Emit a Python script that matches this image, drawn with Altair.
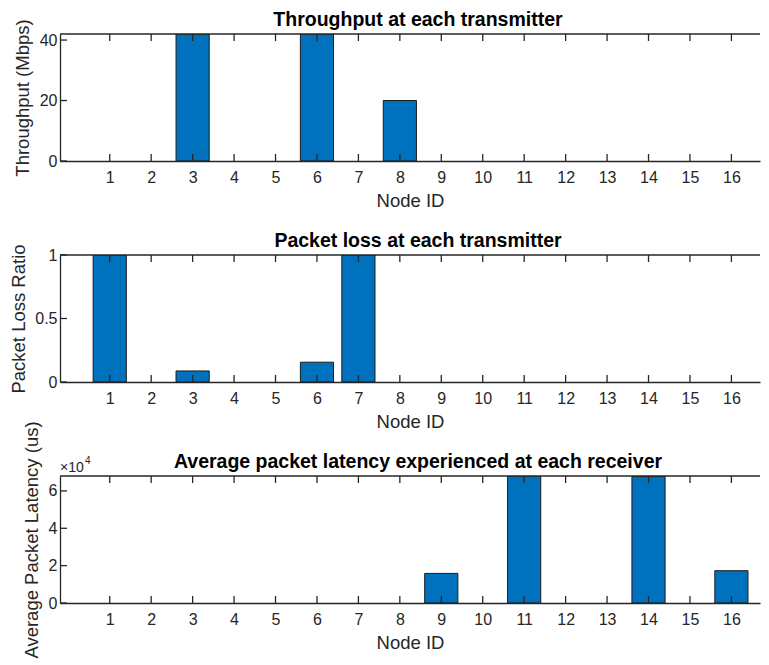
import altair as alt
import pandas as pd

# ---- data ----
nodes = list(range(1, 17))
throughput = [0, 0, 42, 0, 0, 42, 0, 20, 0, 0, 0, 0, 0, 0, 0, 0]
loss_ratio = [1.0, 0, 0.087, 0, 0, 0.156, 1.0, 0, 0, 0, 0, 0, 0, 0, 0, 0]
latency = [0, 0, 0, 0, 0, 0, 0, 0, 15850, 0, 68000, 0, 0, 67700, 0, 17300]

panel_titles = [
    "Throughput at each transmitter",
    "Packet loss at each transmitter",
    "Average packet latency experienced at each receiver",
]
y_titles = ["Throughput (Mbps)", "Packet Loss Ratio", "Average Packet Latency (us)"]
y_max = [42, 1, 68000]
y_ticks = [[0, 20, 40], [0, 0.5, 1], [0, 20000, 40000, 60000]]
y_label_expr = ["datum.value", "datum.value", "datum.value / 10000"]
y_title_x = [-28, -32, -19]

# ---- styling ----
W, H = 700, 127
XMIN, XMAX = -0.2, 16.69
AX = "#262626"
BAR = "#0072BD"
FONT = "Liberation Sans"
TICK_LEN = 7


def panel(values, title, ytitle, ymax, yvals, lexpr, tx, exponent=False):
    df = pd.DataFrame({"node": nodes, "value": values})
    xscale = alt.Scale(domain=[XMIN, XMAX], nice=False, zero=False)
    yscale = alt.Scale(domain=[0, ymax], nice=False)

    bars = (
        alt.Chart(df)
        .transform_filter("datum.value > 0")
        .transform_calculate(lo="datum.node - 0.4", hi="datum.node + 0.4")
        .mark_bar(color=BAR, stroke="#1a1a1a", strokeWidth=1, clip=True)
        .encode(
            x=alt.X(
                "lo:Q",
                scale=xscale,
                axis=alt.Axis(
                    values=nodes,
                    title="Node ID",
                    ticks=False,
                    tickSize=0,
                    grid=False,
                    labelPadding=8,
                    labelFontSize=16,
                    labelColor=AX,
                    labelFont=FONT,
                    titleFont=FONT,
                    titleFontSize=18.5,
                    titleFontWeight="normal",
                    titleColor=AX,
                    titleY=30,
                    titleBaseline="top",
                    domainColor=AX,
                    domainWidth=1.3,
                    zindex=1,
                ),
            ),
            x2="hi:Q",
            y=alt.Y(
                "value:Q",
                scale=yscale,
                axis=alt.Axis(
                    values=yvals,
                    labelExpr=lexpr,
                    title=ytitle,
                    ticks=False,
                    tickSize=0,
                    grid=False,
                    labelPadding=3,
                    labelFontSize=16,
                    labelColor=AX,
                    labelFont=FONT,
                    titleFont=FONT,
                    titleFontSize=18.5,
                    titleFontWeight="normal",
                    titleColor=AX,
                    titleAngle=270,
                    titleBaseline="bottom",
                    titleX=tx,
                    titleY=H / 2,
                    domainColor=AX,
                    domainWidth=1.3,
                    zindex=1,
                ),
            ),
            y2=alt.datum(0),
        )
    )

    tick_df = pd.DataFrame({"node": nodes})
    bottom_ticks = alt.Chart(tick_df).mark_rule(color=AX, strokeWidth=1.3).encode(
        x=alt.X("node:Q"),
        y=alt.value(H),
        y2=alt.value(H - TICK_LEN),
    )
    top_ticks = alt.Chart(tick_df).mark_rule(color=AX, strokeWidth=1.3).encode(
        x=alt.X("node:Q"),
        y=alt.value(0),
        y2=alt.value(TICK_LEN),
    )
    top_border = alt.Chart(pd.DataFrame({"k": [0]})).mark_rule(
        color=AX, strokeWidth=1.3
    ).encode(x=alt.value(0), x2=alt.value(W), y=alt.value(0))
    left_ticks = alt.Chart(pd.DataFrame({"t": yvals})).mark_rule(
        color=AX, strokeWidth=1.3
    ).encode(
        y=alt.Y("t:Q"),
        x=alt.value(0),
        x2=alt.value(TICK_LEN),
    )
    title_txt = alt.Chart(pd.DataFrame({"s": [title]})).mark_text(
        align="center", baseline="alphabetic", fontSize=19.5, fontWeight="bold",
        font=FONT, color="black"
    ).encode(text="s:N", x=alt.value(W / 2 + 8), y=alt.value(-8))
    layers = [bars, bottom_ticks, top_ticks, top_border, left_ticks, title_txt]
    if exponent:
        base_txt = alt.Chart(pd.DataFrame({"s": ["\u00d710"]})).mark_text(
            align="left", baseline="alphabetic", fontSize=14, font=FONT, color=AX
        ).encode(text="s:N", x=alt.value(0), y=alt.value(-4))
        exp_txt = alt.Chart(pd.DataFrame({"s": ["4"]})).mark_text(
            align="left", baseline="alphabetic", fontSize=10, font=FONT, color=AX
        ).encode(text="s:N", x=alt.value(25), y=alt.value(-12))
        layers += [base_txt, exp_txt]

    return alt.layer(*layers).properties(width=W, height=H)


panels = [
    panel(throughput, panel_titles[0], y_titles[0], y_max[0], y_ticks[0], y_label_expr[0], y_title_x[0]),
    panel(loss_ratio, panel_titles[1], y_titles[1], y_max[1], y_ticks[1], y_label_expr[1], y_title_x[1]),
    panel(latency, panel_titles[2], y_titles[2], y_max[2], y_ticks[2], y_label_expr[2], y_title_x[2], exponent=True),
]

chart = (
    alt.vconcat(*panels, spacing=94, bounds="flush")
    .configure_view(stroke=None)
    .properties(padding={"left": 0, "top": 2, "right": 0, "bottom": 0}, background="white")
)

chart.save("out.html", embed_options={"renderer": "svg", "actions": False})
